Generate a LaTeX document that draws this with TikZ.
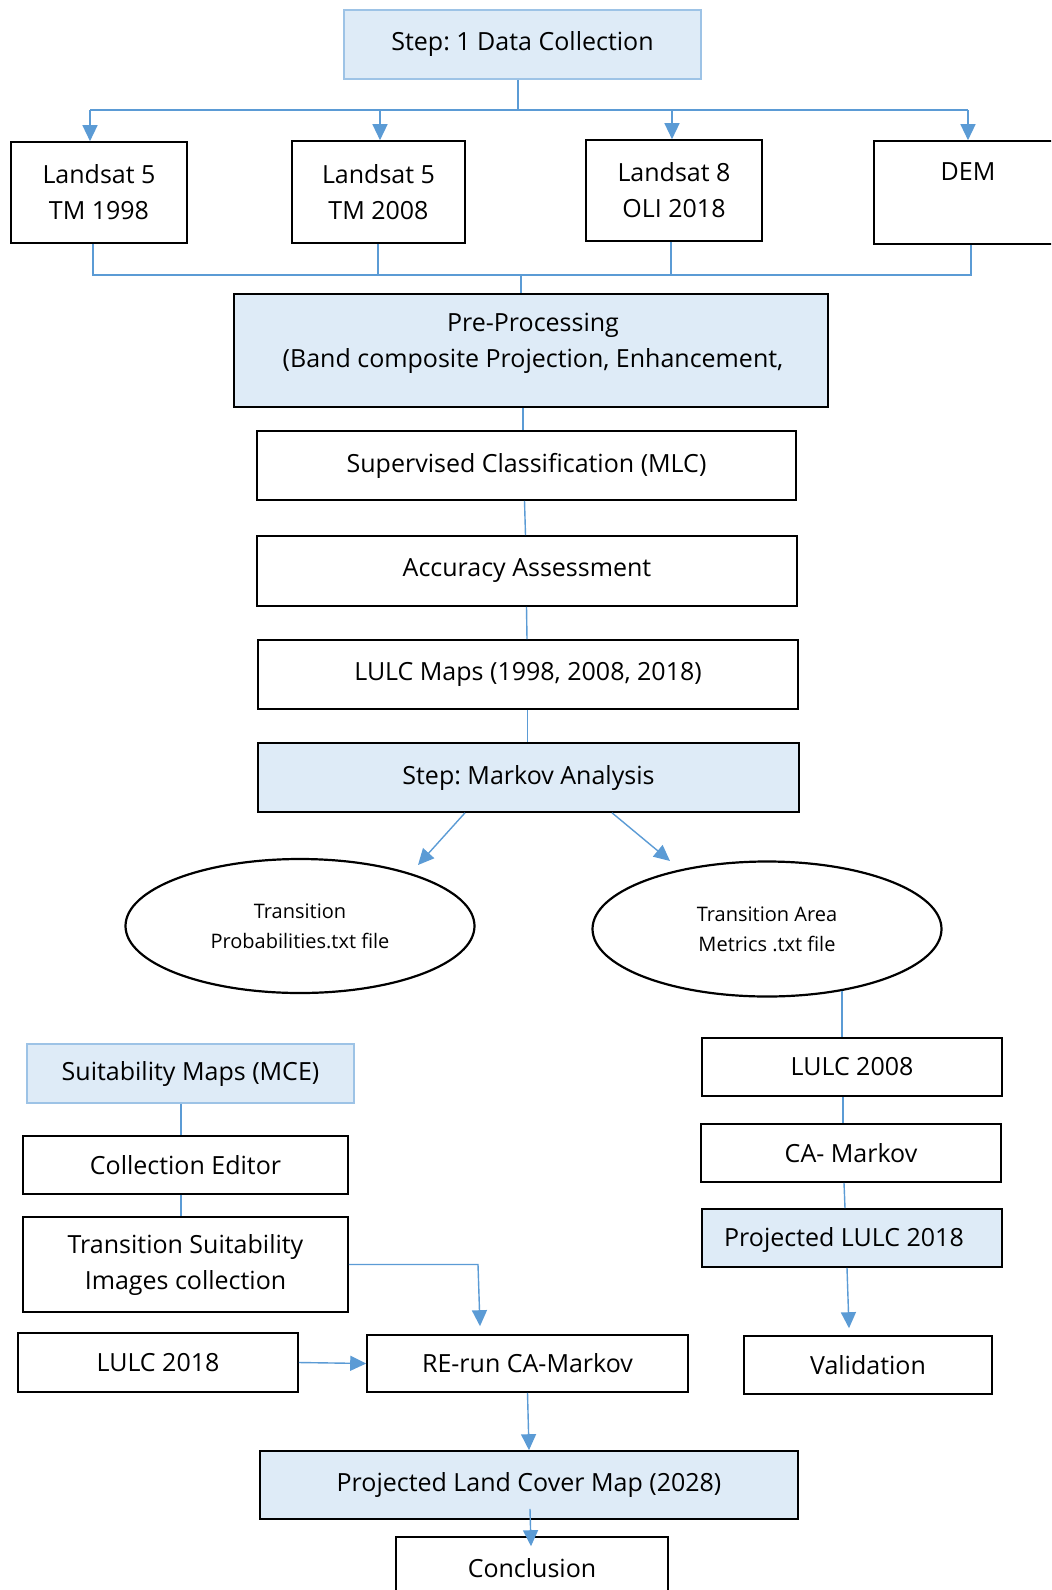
\documentclass[tikz,border=0pt]{standalone}
\usepackage{fontspec}
\setmainfont{Open Sans}
\usetikzlibrary{shapes.geometric,arrows.meta,calc}
\definecolor{lb}{RGB}{222,235,247}
\definecolor{bb}{RGB}{157,195,230}
\definecolor{cn}{RGB}{91,155,213}
\frenchspacing
\begin{document}
\begin{tikzpicture}[x=0.5pt,y=-0.5pt,
  txt/.style={inner sep=0pt,align=center,font=\fontsize{12.5}{18}\selectfont},
  box/.style={txt,draw=black,line width=0.8pt},
  bluebox/.style={box,fill=lb},
  lbbox/.style={box,fill=lb,draw=bb},
  wh/.style 2 args={minimum width=#1*0.5pt,minimum height=#2*0.5pt},
  conn/.style={draw=cn,line width=0.7pt},
  arr/.style={conn,-{Triangle[width=7.5pt,length=8pt]}},
  ell/.style={draw=black,line width=1.1pt,ellipse,inner sep=0pt,align=center,font=\fontsize{10}{15}\selectfont}]
\path[use as bounding box] (0,0) rectangle (1051,1590);
\clip (0,0) rectangle (1051,1590);
% nodes
\node[lbbox,wh={357}{69}] (top) at (522.5,44.5) {Step: 1 Data Collection};
\node[box,wh={176}{101}] (l1) at (99,192.5) {Landsat 5\\TM 1998};
\node[box,wh={173}{102}] (l2) at (378.5,192) {Landsat 5\\TM 2008};
\node[box,wh={176}{101}] (l3) at (674,190.5) {Landsat 8\\OLI 2018};
\node[box,wh={230}{103}] (dem) at (989,192.5) {};
\node[txt] (demt) at (968,172) {DEM};
\node[bluebox,wh={594}{113}] (pre) at (531,350.5) {};
\node[txt] (pret) at (533,343) {Pre-Processing\\(Band composite Projection, Enhancement,};
\node[box,wh={539}{69}] (sup) at (526.5,465.5) {Supervised Classification (MLC)};
\node[box,wh={540}{70}] (acc) at (527,571) {Accuracy Assessment};
\node[box,wh={540}{69}] (maps) at (528,674.5) {LULC Maps (1998, 2008, 2018)};
\node[bluebox,wh={541}{69}] (markov) at (528.5,777.5) {Step: Markov Analysis};
\node[ell,wh={349}{134}] (ell1) at (300,926) {Transition\\Probabilities.txt file};
\node[ell,wh={349}{135}] (ell2) at (767,929) {Transition Area\\Metrics .txt file};
\node[box,wh={300}{58}] (lulc08) at (852,1067) {LULC 2008};
\node[box,wh={300}{58}] (ca) at (851,1153) {CA- Markov};
\node[bluebox,wh={300}{58}] (proj18) at (852,1238) {};
\node[txt] (proj18t) at (844,1240) {Projected LULC 2018};
\node[box,wh={248}{58}] (valid) at (868,1365) {Validation};
\node[lbbox,wh={327}{59}] (suit) at (190.5,1073.5) {Suitability Maps (MCE)};
\node[box,wh={325}{58}] (coll) at (185.5,1165) {Collection Editor};
\node[box,wh={325}{95}] (tsic) at (185.5,1264.5) {Transition Suitability\\Images collection};
\node[box,wh={280}{59}] (lulc18) at (158,1362.5) {LULC 2018};
\node[box,wh={321}{57}] (rerun) at (527.5,1363.5) {RE-run CA-Markov};
\node[bluebox,wh={538}{68}] (proj28) at (529,1485) {Projected Land Cover Map (2028)};
\node[box,wh={272}{62}] (concl) at (532,1568) {Conclusion};
% top tree
\coordinate (b0) at (518,110);
\coordinate (bl) at (90,110);
\coordinate (b2) at (380,110);
\coordinate (b3) at (672,110);
\coordinate (br) at (968,110);
\draw[conn] (top.south -| b0) -- (b0);
\draw[conn] (bl) -- (br);
\draw[arr] (bl) -- (bl |- l1.north);
\draw[arr] (b2) -- (b2 |- l2.north);
\draw[arr] (b3) -- (b3 |- l3.north);
\draw[arr] (br) -- (br |- dem.north);
% bottom bus
\coordinate (c1) at (93,275);
\coordinate (c2) at (378,275);
\coordinate (c3) at (671,275);
\coordinate (c4) at (971,275);
\coordinate (c0) at (521,275);
\draw[conn] (c1 |- l1.south) -- (c1) -- (c4) -- (c4 |- dem.south);
\draw[conn] (c2 |- l2.south) -- (c2);
\draw[conn] (c3 |- l3.south) -- (c3);
\draw[conn] (c0) -- (c0 |- pre.north);
% chain
\draw[conn] ($(pre.south)+(-8,0)$) -- ($(sup.north)+(-3.5,0)$);
\draw[conn] ($(sup.south)+(-2,0)$) -- ($(acc.north)+(-1.5,0)$);
\draw[conn] ($(acc.south)+(-0.5,0)$) -- ($(maps.north)+(-1,0)$);
\draw[conn] ($(maps.south)+(-0.5,0)$) -- ($(markov.north)+(-1,0)$);
% markov arrows
\coordinate (t1) at (418,865);
\coordinate (t2) at (670,861);
\draw[arr] ($(markov.south)+(-63.5,0)$) -- (t1);
\draw[arr] ($(markov.south)+(83.5,0)$) -- (t2);
% right column
\coordinate (e2b) at (842,991);
\draw[conn] (e2b) -- (e2b |- lulc08.north);
\draw[conn] ($(lulc08.south)+(-9,0)$) -- ($(ca.north)+(-8,0)$);
\draw[conn] ($(ca.south)+(-7,0)$) -- ($(proj18.north)+(-7,0)$);
\draw[arr] ($(proj18.south)+(-5,0)$) -- ($(valid.north)+(-19,-7)$);
% left column
\draw[conn] ($(suit.south)+(-9.5,0)$) -- ($(coll.north)+(-4.5,0)$);
\draw[conn] ($(coll.south)+(-4.5,0)$) -- ($(tsic.north)+(-4.5,0)$);
\coordinate (k1) at (478,1264.5);
\draw[arr] (tsic.east) -- (k1) -- ($(rerun.north)+(-47.5,-8)$);
\draw[arr] (lulc18.east) -- (rerun.west);
\draw[arr] (rerun.south) -- (proj28.north);
\draw[arr] ($(proj28.south)+(1,-11)$) -- ($(concl.north)+(-1,10)$);
\end{tikzpicture}
\end{document}
